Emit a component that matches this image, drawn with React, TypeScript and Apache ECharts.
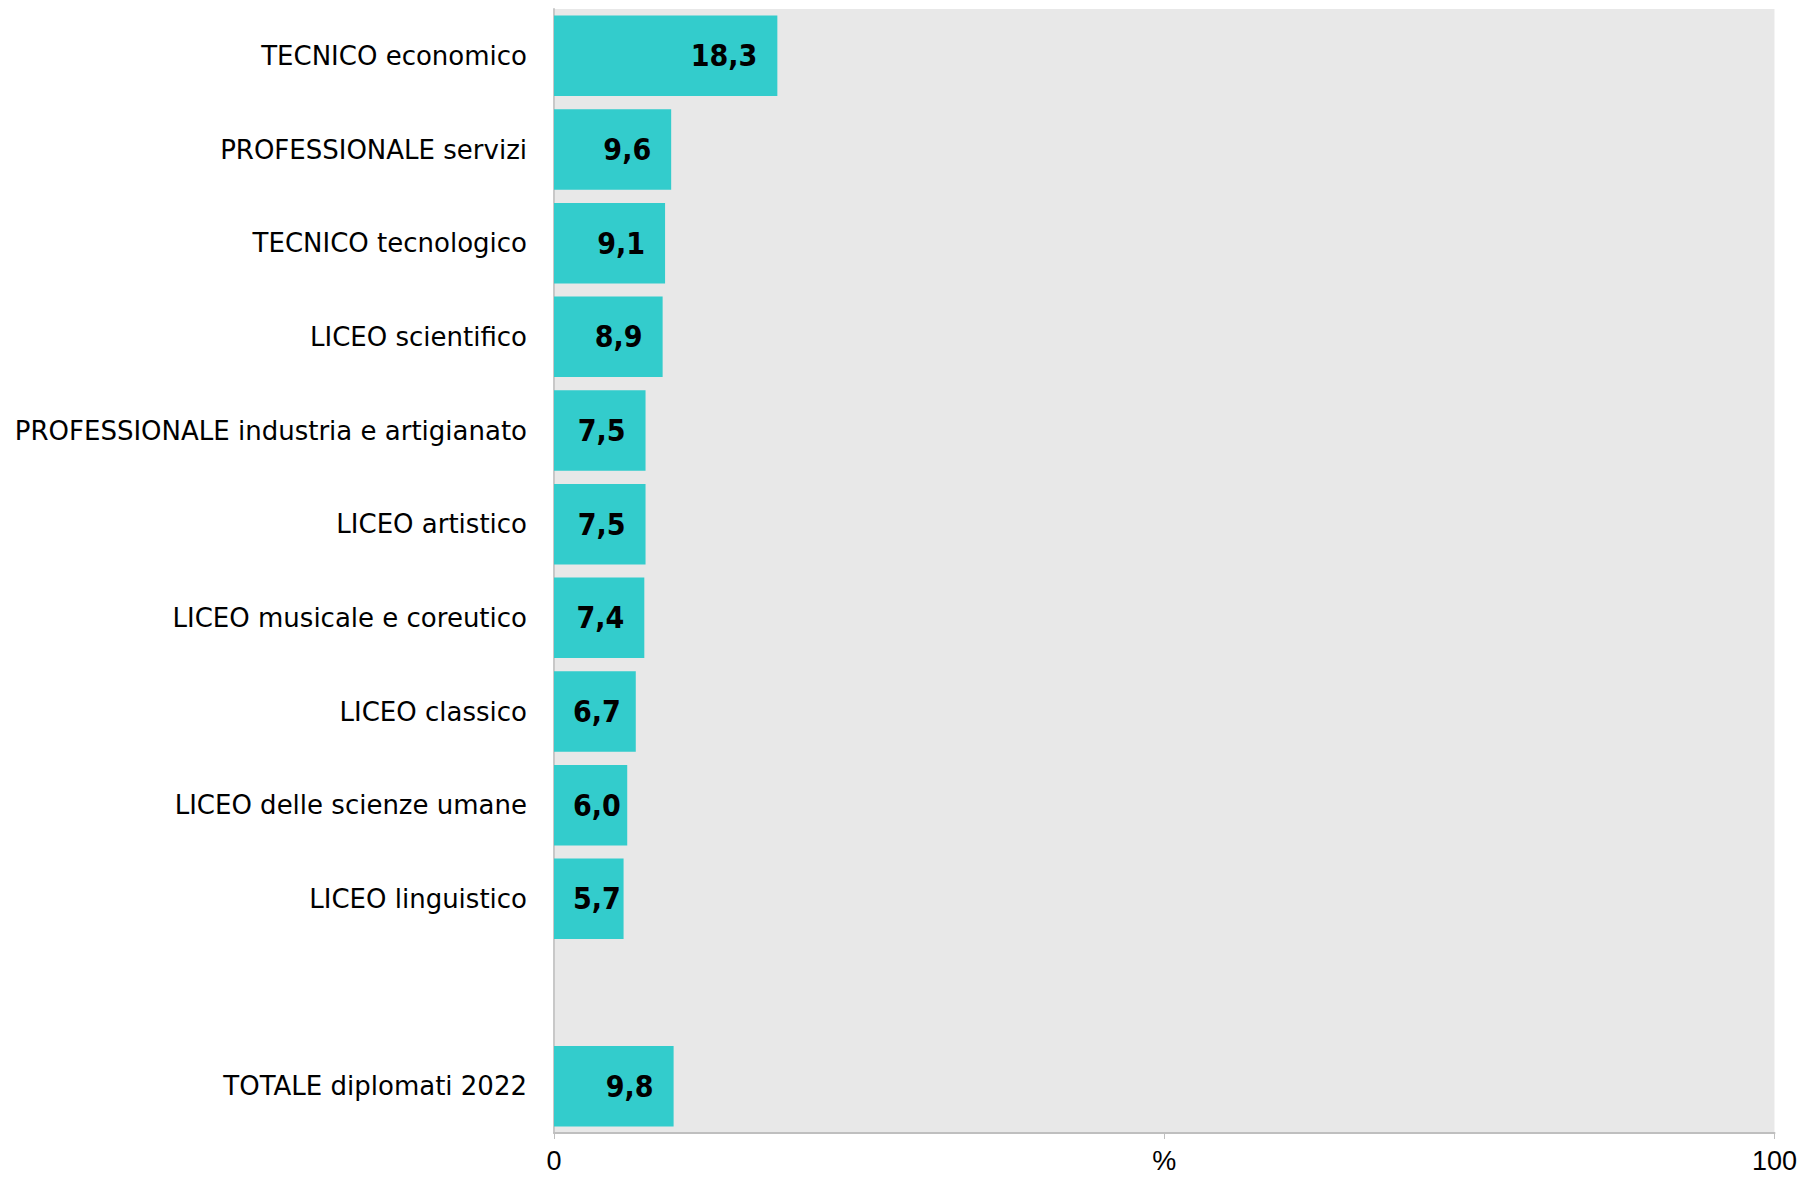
import React, { useEffect, useRef } from "react";
import * as echarts from "echarts";

const categories = [
  "TECNICO economico",
  "PROFESSIONALE servizi",
  "TECNICO tecnologico",
  "LICEO scientifico",
  "PROFESSIONALE industria e artigianato",
  "LICEO artistico",
  "LICEO musicale e coreutico",
  "LICEO classico",
  "LICEO delle scienze umane",
  "LICEO linguistico",
  "",
  "TOTALE diplomati 2022",
];
const values: (number | null)[] = [18.3, 9.6, 9.1, 8.9, 7.5, 7.5, 7.4, 6.7, 6.0, 5.7, null, 9.8];
const axisTickLabels: Record<number, string> = { 0: "0", 50: "%", 100: "100" };

export default function App() {
  const ref = useRef<HTMLDivElement>(null);
  useEffect(() => {
    if (!ref.current) return;
    const chart = echarts.init(ref.current, null, { renderer: "svg" });
    chart.setOption({
      animation: false,
      backgroundColor: "#ffffff",
      grid: {
        left: 554,
        right: 25,
        top: 9,
        bottom: 46,
        show: true,
        backgroundColor: "#E8E8E8",
        borderWidth: 0,
      },
      xAxis: {
        type: "value",
        min: 0,
        max: 100,
        interval: 50,
        splitLine: { show: false },
        axisLine: { show: true, lineStyle: { color: "#BFBFBF", width: 2 } },
        axisTick: { show: true, length: 6, lineStyle: { color: "#BFBFBF", width: 1 } },
        axisLabel: {
          color: "#000",
          fontFamily: "Liberation Sans, Arial, sans-serif",
          fontSize: 27,
          margin: 14,
          formatter: (v: number) => axisTickLabels[v] ?? "",
        },
      },
      yAxis: {
        type: "category",
        data: categories,
        inverse: true,
        axisLine: { show: true, lineStyle: { color: "#C8C8C8", width: 2 } },
        axisTick: { show: false },
        axisLabel: {
          color: "#000",
          fontFamily: "DejaVu Sans, sans-serif",
          fontSize: 26,
          margin: 27,
        },
      },
      series: [
        {
          type: "bar",
          data: values,
          barWidth: "86%",
          itemStyle: { color: "#33CCCC" },
          label: {
            show: true,
            position: "insideRight",
            distance: 20,
            color: "#000",
            fontWeight: "bold",
            fontFamily: "DejaVu Sans Condensed, DejaVu Sans, sans-serif",
            fontSize: 30,
            formatter: (p: any) => (p.value == null ? "" : Number(p.value).toFixed(1).replace(".", ",")),
          },
          labelLayout: (params: any) => {
            const minX = params.rect.x + 19;
            if (params.labelRect.x < minX) {
              return { dx: minX - params.labelRect.x };
            }
            return {};
          },
        },
      ],
    });
    return () => chart.dispose();
  }, []);
  return (
    <div
      ref={ref}
      style={{ position: "fixed", left: 0, top: 0, width: 1800, height: 1179 }}
    />
  );
}
